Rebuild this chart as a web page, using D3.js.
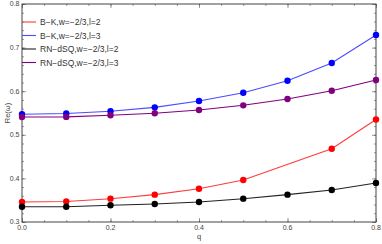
<!DOCTYPE html>
<html>
<head>
<meta charset="utf-8">
<script src="https://cdn.jsdelivr.net/npm/d3@7"></script>
<style>
  body { margin: 0; background: #fff; }
  svg { display: block; font-family: "Liberation Sans", Arial, sans-serif; }
</style>
</head>
<body>
<div data-js-graph></div>
<script>
// series data
const qRed = [0, 0.1, 0.2, 0.3, 0.4, 0.5, 0.7, 0.8];
const bkL2 = [0.346, 0.347, 0.3535, 0.3627, 0.3764, 0.3963, 0.468, 0.535];
const qAll = [0, 0.1, 0.2, 0.3, 0.4, 0.5, 0.6, 0.7, 0.8];
const bkL3 = [0.547, 0.549, 0.554, 0.563, 0.5775, 0.5966, 0.624, 0.6647, 0.729];
const rnL2 = [0.335, 0.335, 0.3383, 0.3413, 0.3459, 0.3535, 0.3627, 0.3734, 0.3894];
const rnL3 = [0.5408, 0.541, 0.5447, 0.5493, 0.5569, 0.5676, 0.5821, 0.6012, 0.6257];
const legendLabels = ['B\u2212K,w=\u22122/3,l=2', 'B\u2212K,w=\u22122/3,l=3', 'RN\u2212dSQ,w=\u22122/3,l=2', 'RN\u2212dSQ,w=\u22122/3,l=3'];
const xTicks = [0, 0.2, 0.4, 0.6, 0.8];
const yTicks = [0.3, 0.4, 0.5, 0.6, 0.7, 0.8];

const SETTING = {
  width: 382,
  height: 244,
  left: 22,
  right: 376,
  top: 4,
  bottom: 222,
};

const series = [
  { q: qRed, v: bkL2, line: '#ff3b3b', dot: '#ff0000' },
  { q: qAll, v: bkL3, line: '#4a4aff', dot: '#0000ff' },
  { q: qAll, v: rnL2, line: '#222222', dot: '#000000' },
  { q: qAll, v: rnL3, line: '#800080', dot: '#800080' },
];

const svg = d3.select('[data-js-graph]').append('svg')
  .attr('width', SETTING.width)
  .attr('height', SETTING.height);

const x = d3.scaleLinear().domain([0, 0.8]).range([SETTING.left, SETTING.right]);
const y = d3.scaleLinear().domain([0.3, 0.8]).range([SETTING.bottom, SETTING.top]);

// frame ticks (inward, on all four sides)
const minorX = d3.range(0, 0.8001, 0.05);
const minorY = d3.range(0.3, 0.8001, 0.02);
const tickColor = '#555';

function drawTicks(axisFn, scale, values, size, transform) {
  svg.append('g')
    .attr('transform', transform)
    .call(axisFn(scale).tickValues(values).tickSize(size).tickFormat(''))
    .call((g) => g.select('.domain').remove())
    .call((g) => g.selectAll('line').attr('stroke', tickColor).attr('stroke-width', 0.6));
}

drawTicks(d3.axisTop, x, minorX, 2, `translate(0,${SETTING.bottom})`);
drawTicks(d3.axisTop, x, xTicks, 4, `translate(0,${SETTING.bottom})`);
drawTicks(d3.axisBottom, x, minorX, 2, `translate(0,${SETTING.top})`);
drawTicks(d3.axisBottom, x, xTicks, 4, `translate(0,${SETTING.top})`);
drawTicks(d3.axisRight, y, minorY, 2, `translate(${SETTING.left},0)`);
drawTicks(d3.axisRight, y, yTicks, 4, `translate(${SETTING.left},0)`);
drawTicks(d3.axisLeft, y, minorY, 2, `translate(${SETTING.right},0)`);
drawTicks(d3.axisLeft, y, yTicks, 4, `translate(${SETTING.right},0)`);

// box
svg.append('rect')
  .attr('x', SETTING.left)
  .attr('y', SETTING.top)
  .attr('width', SETTING.right - SETTING.left)
  .attr('height', SETTING.bottom - SETTING.top)
  .attr('fill', 'none')
  .attr('stroke', '#444')
  .attr('stroke-width', 1);

// tick labels
svg.append('g')
  .selectAll('text')
  .data(xTicks)
  .enter()
  .append('text')
  .attr('x', (d) => x(d))
  .attr('y', SETTING.bottom + 8)
  .attr('text-anchor', 'middle')
  .attr('font-size', 7)
  .attr('fill', '#444')
  .text((d) => d.toFixed(1));

svg.append('g')
  .selectAll('text')
  .data(yTicks)
  .enter()
  .append('text')
  .attr('x', SETTING.left - 2.5)
  .attr('y', (d) => y(d) + 2.4)
  .attr('text-anchor', 'end')
  .attr('font-size', 7)
  .attr('fill', '#444')
  .text((d) => d.toFixed(1));

// axis titles
svg.append('text')
  .attr('x', x(0.4))
  .attr('y', 239)
  .attr('text-anchor', 'middle')
  .attr('font-size', 7.5)
  .attr('fill', '#444')
  .text('q');

svg.append('text')
  .attr('transform', `translate(10,${y(0.55)}) rotate(-90)`)
  .attr('text-anchor', 'middle')
  .attr('font-size', 7.5)
  .attr('fill', '#444')
  .text('Re(\u03c9)');

// lines and points
const line = d3.line().x((d) => x(d[0])).y((d) => y(d[1]));

series.forEach((s) => {
  const pts = s.q.map((q, i) => [q, s.v[i]]);
  svg.append('path')
    .datum(pts)
    .attr('d', line)
    .attr('fill', 'none')
    .attr('stroke', s.line)
    .attr('stroke-width', 1.1);
  svg.append('g')
    .selectAll('circle')
    .data(pts)
    .enter()
    .append('circle')
    .attr('cx', (d) => x(d[0]))
    .attr('cy', (d) => y(d[1]))
    .attr('r', 3.2)
    .attr('fill', s.dot);
});

// legend
const legend = svg.append('g');
series.forEach((s, i) => {
  const ly = 22 + i * 13.5;
  legend.append('line')
    .attr('x1', SETTING.left)
    .attr('x2', SETTING.left + 14)
    .attr('y1', ly)
    .attr('y2', ly)
    .attr('stroke', s.line)
    .attr('stroke-width', 1.1);
  legend.append('text')
    .attr('x', SETTING.left + 18)
    .attr('y', ly + 3)
    .attr('font-size', 8.5)
    .attr('fill', '#333')
    .text(legendLabels[i]);
});
</script>
</body>
</html>
